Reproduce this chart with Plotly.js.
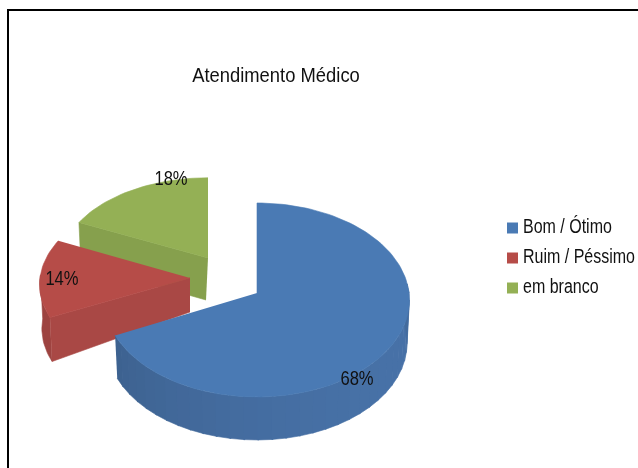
<!DOCTYPE html>
<html><head><meta charset="utf-8">
<script src="https://cdn.plot.ly/plotly-3.0.1.min.js"></script>
<style>html,body{margin:0;padding:0;background:#fff}#c{width:638px;height:468px;filter:blur(0.35px)}</style>
</head><body><div id="c"></div>
<script>
const chartTitle = 'Atendimento Médico';
const categories = ['Bom / Ótimo', 'Ruim / Péssimo', 'em branco'];
const values = [68, 14, 18];

const topColors = ['#4a7ab4', '#b64c48', '#94b055'];
const sideColors = ['#456ea2', '#a94845', '#86a04d'];
const FONT = '"Liberation Sans",Arial,sans-serif';

// 3D projection of each exploded slice (pixel-space axes)
const K = 0.072;
const slices = [
  {ax: 257, ay: 293, rx: 152, ry: 96.5, d: 43},
  {ax: 190, ay: 278, rx: 150, ry: 90,   d: 44},
  {ax: 208, ay: 258, rx: 147, ry: 86,   d: 42}
];
const labelAt = [[357, 380], [62, 280], [171, 180]];
const legendMarkX = 512.5, legendTextX = 523, legendY = [228, 258, 288];

function pt(s, deg, down) {
  const t = deg * Math.PI / 180, c = -Math.cos(t), w = 1 - K * c;
  const shrink = down ? 0.985 : 1;
  return [s.ax + s.rx * Math.sin(t) / w * shrink, s.ay + s.ry * c / w + (down ? s.d : 0)];
}
function arc(s, a, b, down) {
  const out = [], n = Math.max(2, Math.round(Math.abs(b - a) / 2));
  for (let i = 0; i <= n; i++) out.push(pt(s, a + (b - a) * i / n, down));
  return out;
}
function poly(points, color, name) {
  return {type: 'scatter', mode: 'lines', x: points.map(p => p[0]), y: points.map(p => p[1]),
    fill: 'toself', fillcolor: color, line: {color: color, width: 0.6}, hoverinfo: 'skip',
    showlegend: false, name: name || ''};
}
function shade(hex, f) {
  const n = parseInt(hex.slice(1), 16);
  const r = (n >> 16) & 255, g = (n >> 8) & 255, b = n & 255;
  return 'rgb(' + [r, g, b].map(v => Math.round(v * f)).join(',') + ')';
}

const total = values.reduce((a, b) => a + b, 0);
let cum = 0;
const spans = values.map(v => { const a = cum / total * 360; cum += v; return [a, cum / total * 360]; });

const traces = [];
function apexLow(s) { return [s.ax - 2, s.ay + s.d]; }

// green slice
{
  const s = slices[2], sp = spans[2];
  traces.push(poly([[s.ax, s.ay], pt(s, sp[0], false), pt(s, sp[0], true), apexLow(s)], sideColors[2]));
  traces.push(poly([[s.ax, s.ay]].concat(arc(s, sp[0], sp[1], false)), topColors[2], categories[2]));
}
// red slice
{
  const s = slices[1], sp = spans[1];
  const a1 = sp[0], a2 = 272;
  traces.push(poly(arc(s, a1, a2, false).concat(arc(s, a2, a1, true)), shade(sideColors[1], 0.93)));
  traces.push(poly([[s.ax, s.ay], pt(s, a1, false), pt(s, a1, true), [s.ax, s.ay + s.d - 10]], sideColors[1]));
  traces.push(poly([[s.ax, s.ay]].concat(arc(s, sp[0], sp[1], false)), topColors[1], categories[1]));
}
// blue slice
{
  const s = slices[0], sp = spans[0];
  const start = sp[1], end = 85, step = 5;
  for (let a = start; a > end; a -= step) {
    const b = Math.max(end, a - step);
    const f = 0.86 + 0.14 * Math.sin(Math.min(1, (start - a) / 125) * Math.PI / 2) - (a < 110 ? (110 - a) * 0.003 : 0);
    traces.push(poly(arc(s, a, b - 0.5, false).concat(arc(s, b - 0.5, a, true)), shade(sideColors[0], f + 0.03)));
  }
  traces.push(poly([[s.ax, s.ay]].concat(arc(s, sp[0], sp[1], false)), topColors[0], categories[0]));
}

// percentage labels
traces.push({type: 'scatter', mode: 'text', x: labelAt.map(p => p[0]), y: labelAt.map(p => p[1]),
  text: values.map(v => v + '%'), textposition: 'middle center',
  textfont: {family: FONT, size: 21, color: '#111'}, hoverinfo: 'skip', showlegend: false});

// legend
traces.push({type: 'scatter', mode: 'markers', x: categories.map(() => legendMarkX), y: legendY,
  marker: {symbol: 'square', size: 11, color: topColors}, hoverinfo: 'skip', showlegend: false});
traces.push({type: 'scatter', mode: 'text', x: categories.map(() => legendTextX), y: legendY,
  text: categories, textposition: 'middle right',
  textfont: {family: FONT, size: 20, color: '#111'}, hoverinfo: 'skip', showlegend: false});

const layout = {
  width: 638, height: 468, margin: {l: 0, r: 0, t: 0, b: 0},
  paper_bgcolor: '#fff', plot_bgcolor: '#fff', showlegend: false,
  title: {text: chartTitle, x: 276 / 638, y: 1 - 75 / 468, xanchor: 'center', yanchor: 'middle',
    font: {family: FONT, size: 21, color: '#111'}},
  xaxis: {range: [0, 638], visible: false, fixedrange: true},
  yaxis: {range: [468, 0], visible: false, fixedrange: true},
  shapes: [
    {type: 'line', xref: 'x', yref: 'y', x0: 8, x1: 8, y0: 10, y1: 468, line: {color: '#000', width: 2}},
    {type: 'line', xref: 'x', yref: 'y', x0: 7, x1: 638, y0: 10, y1: 10, line: {color: '#000', width: 2}}
  ]
};

// The reference uses a condensed face: narrow the real text horizontally around its anchor.
function condense(node, factor) {
  const x = parseFloat(node.getAttribute('x')) || 0;
  const prev = node.getAttribute('transform') || '';
  node.setAttribute('transform', prev + ' translate(' + x + ',0) scale(' + factor + ',1) translate(' + (-x) + ',0)');
}
Plotly.newPlot('c', traces, layout, {displayModeBar: false, staticPlot: true}).then(gd => {
  gd.querySelectorAll('text').forEach(t => {
    const s = t.textContent;
    if (s === chartTitle) condense(t, 0.876);
    else if (categories.includes(s)) condense(t, 0.80);
    else if (/%$/.test(s)) condense(t, 0.79);
  });
});
</script></body></html>
